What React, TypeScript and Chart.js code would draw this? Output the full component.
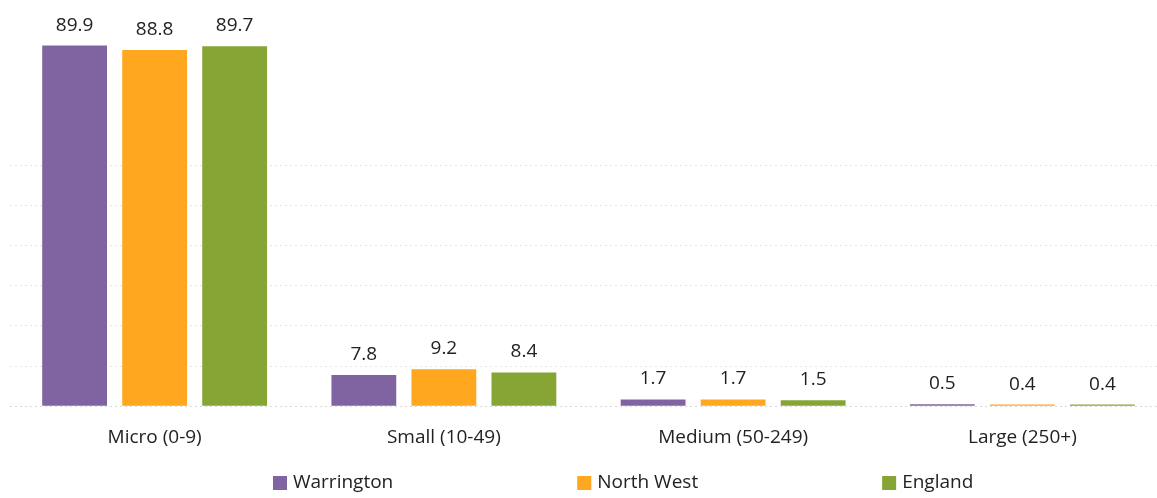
import React, { useEffect, useRef } from "react";
import { Chart, registerables } from "chart.js";

Chart.register(...registerables);

const categories = ["Micro (0-9)", "Small (10-49)", "Medium (50-249)", "Large (250+)"];
const seriesNames = ["Warrington", "North West", "England"];
const warrington = [89.9, 7.8, 1.7, 0.5];
const northWest = [88.8, 9.2, 1.7, 0.4];
const england = [89.7, 8.4, 1.5, 0.4];
const colors = ["#8064A2", "#FFA71F", "#86A535"];

const FONT = "'Open Sans', sans-serif";

const valueLabels = {
  id: "valueLabels",
  afterDatasetsDraw(chart: any) {
    const ctx = chart.ctx;
    ctx.save();
    ctx.font = `19px ${FONT}`;
    ctx.fillStyle = "#222222";
    ctx.textAlign = "center";
    ctx.textBaseline = "alphabetic";
    chart.data.datasets.forEach((ds: any, di: number) => {
      const meta = chart.getDatasetMeta(di);
      meta.data.forEach((bar: any, i: number) => {
        ctx.fillText(ds.data[i].toFixed(1), bar.x, bar.y - 15);
      });
    });
    ctx.restore();
  },
};

const bottomLegend = {
  id: "bottomLegend",
  afterDraw(chart: any) {
    const ctx = chart.ctx;
    const area = chart.chartArea;
    ctx.save();
    ctx.font = `19px ${FONT}`;
    ctx.textBaseline = "middle";
    ctx.textAlign = "left";
    const y = chart.height - 15;
    let x = area.left + 263;
    const box = 14;
    const gap = 184;
    chart.data.datasets.forEach((ds: any) => {
      ctx.fillStyle = ds.backgroundColor;
      ctx.fillRect(x, y - box / 2, box, box);
      ctx.fillStyle = "#222222";
      ctx.fillText(ds.label, x + box + 6, y);
      const w = ctx.measureText(ds.label).width;
      x += box + 6 + w + gap;
    });
    ctx.restore();
  },
};

export default function App() {
  const ref = useRef<HTMLCanvasElement | null>(null);
  useEffect(() => {
    if (!ref.current) return;
    document.body.style.overflow = "hidden";
    const chart = new Chart(ref.current, {
      type: "bar",
      data: {
        labels: categories,
        datasets: [
          { label: seriesNames[0], data: warrington, backgroundColor: colors[0] },
          { label: seriesNames[1], data: northWest, backgroundColor: colors[1] },
          { label: seriesNames[2], data: england, backgroundColor: colors[2] },
        ],
      },
      options: {
        animation: false,
        responsive: true,
        maintainAspectRatio: false,
        layout: { padding: { left: 10, right: 0, top: 5, bottom: 37 } },
        datasets: { bar: { categoryPercentage: 0.83, barPercentage: 0.81 } } as any,
        plugins: {
          legend: { display: false },
          tooltip: { enabled: false },
        },
        scales: {
          x: {
            grid: { display: false },
            border: { display: false },
            ticks: { color: "#222222", font: { family: FONT, size: 19 }, padding: 12 },
          },
          y: {
            min: 0,
            max: 100,
            ticks: { display: false, stepSize: 10 },
            border: { display: false, dash: [2, 3] },
            grid: {
              drawTicks: false,
              color: (c: any) =>
                c.tick && c.tick.value === 0
                  ? "#d9d9d9"
                  : c.tick && c.tick.value <= 60
                  ? "#e6e6e6"
                  : "rgba(0,0,0,0)",
            },
          },
        },
      },
      plugins: [valueLabels, bottomLegend],
    });
    return () => chart.destroy();
  }, []);
  return (
    <div style={{ position: "absolute", left: 0, top: 0, width: 1157, height: 498, overflow: "hidden", background: "#fff" }}>
      <div style={{ position: "relative", width: 1167, height: 498 }}>
        <canvas ref={ref} />
      </div>
    </div>
  );
}
